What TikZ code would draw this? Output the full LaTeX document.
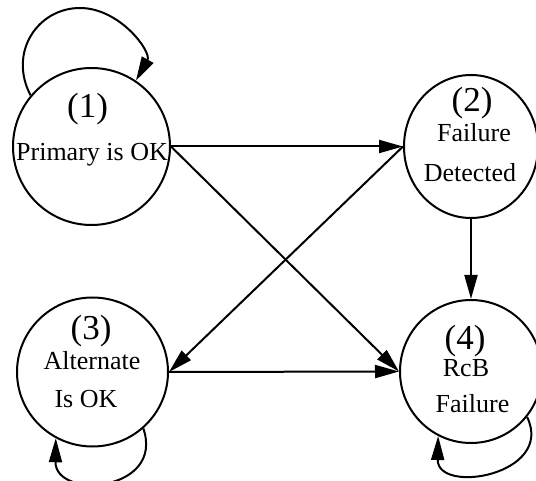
\documentclass[tikz,border=0pt]{standalone}
\usepackage{fontspec}
\setmainfont{Liberation Serif}
\usetikzlibrary{arrows.meta,shapes.geometric}
\begin{document}
\begin{tikzpicture}[x=1pt,y=-1pt,
  state/.style={draw, ellipse, line width=2pt, inner sep=0pt},
  num/.style={font=\fontsize{35}{40}\selectfont, anchor=base, inner sep=0pt},
  lbl/.style={font=\fontsize{26}{30}\selectfont, anchor=base, inner sep=0pt},
  edge/.style={line width=2pt, -{Triangle[length=24pt,width=13pt]}}]
\path[use as bounding box] (0,0) rectangle (536,481);
\clip (0,0) rectangle (536,481);
% states
\node[state, minimum width=157pt, minimum height=157pt] (n1) at (91.5,146.5) {};
\node[state, minimum width=134pt, minimum height=143pt] (n2) at (471,146.5) {};
\node[state, minimum width=151pt, minimum height=149pt] (n3) at (92.5,372) {};
\node[state, minimum width=142pt, minimum height=143pt] (n4) at (471,371.5) {};
% texts
\node[num] (t1) at (87.5,118) {(1)};
\node[lbl] (p1) at (92,161) {Primary is OK};
\node[num] (t2) at (472,112) {(2)};
\node[lbl] (f2) at (474,142) {Failure};
\node[lbl] (d2) at (470,182) {Detected};
\node[num] (t3) at (91,340) {(3)};
\node[lbl] (a3) at (92,370) {Alternate};
\node[lbl] (i3) at (86,407) {Is OK};
\node[num] (t4) at (465,349) {(4)};
\node[lbl] (r4) at (466,377) {RcB};
\node[lbl] (f4) at (472.5,412) {Failure};
% transitions
\draw[edge] (n1.east) -- (n2.west);
\draw[edge] (n1.east) -- (n4.west);
\draw[edge] (n2.west) -- (n3.east);
\draw[edge] (n3.east) -- (n4.west);
\draw[edge] (n2.south) -- (n4.north);
% self loops
\coordinate (l1) at (80,8);
\draw[edge] (n1.140) .. controls (8,52.5) and (37.6,8) .. (l1)
  .. controls (120,8) and (152,52) .. (n1.56);
\draw[edge] (n3.-48) .. controls (165,492) and (55,500) .. (n3.-119);
\draw[edge] (n4.-39) .. controls (555,475) and (437,495) .. (n4.-117);
\end{tikzpicture}
\end{document}
